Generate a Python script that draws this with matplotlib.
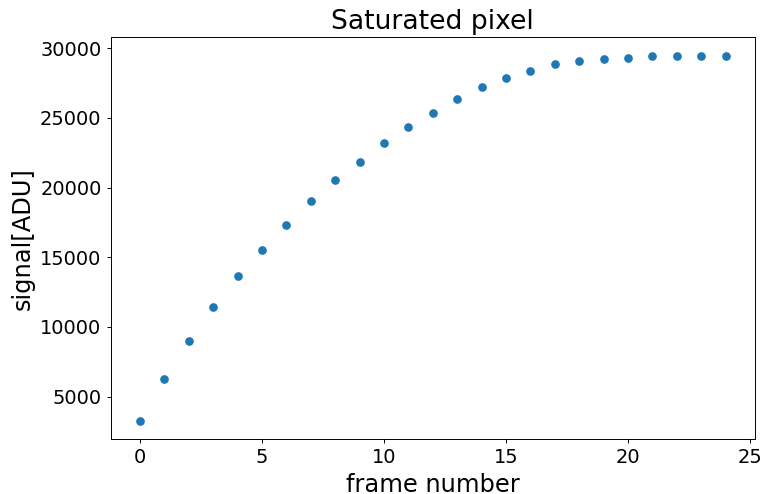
import matplotlib
matplotlib.use("Agg")
import matplotlib.pyplot as plt

frames = list(range(25))
signal = [3264, 6255, 8953, 11392, 13666, 15531, 17346, 19046, 20531, 21865,
          23185, 24376, 25380, 26363, 27202, 27869, 28393, 28852, 29067, 29232,
          29304, 29426, 29426, 29426, 29470]

k = 0.87
fig = plt.figure(figsize=(7.61, 4.94), dpi=100)
ax = fig.add_axes([110.7/761, 1 - 439/494, (755 - 110.7)/761, (439 - 37.3)/494])
ax.scatter(frames, signal, color="#1f77b4", s=36 * k * k)
ax.set_title("Saturated pixel", fontsize=22 * k)
ax.set_xlabel("frame number", fontsize=20 * k)
ax.set_ylabel("signal[ADU]", fontsize=20 * k)
ax.tick_params(labelsize=16 * k, width=0.8 * k, length=3.5 * k)
for s in ax.spines.values():
    s.set_linewidth(0.8 * k)
ax.set_xticks([0, 5, 10, 15, 20, 25])
ax.set_yticks([5000, 10000, 15000, 20000, 25000, 30000])
fig.savefig("out.png", dpi=100)
